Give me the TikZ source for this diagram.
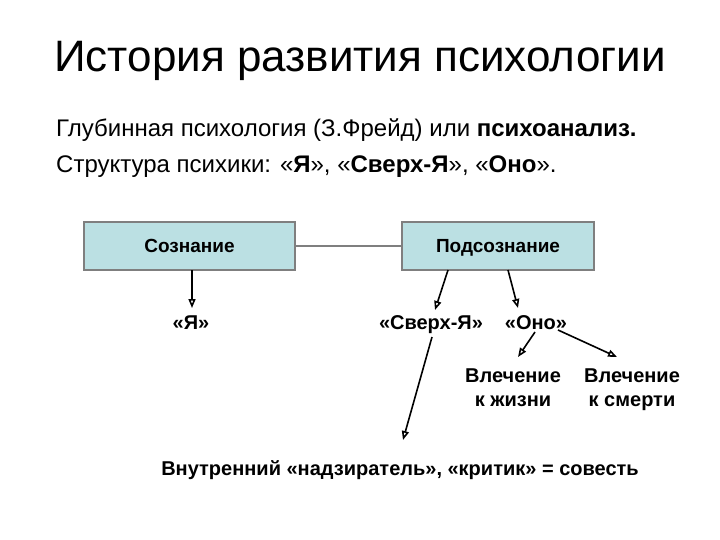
\documentclass[tikz,border=0pt]{standalone}
\usepackage{fontspec}
\setmainfont{Liberation Sans}
\usetikzlibrary{arrows.meta,calc}
\definecolor{boxfill}{HTML}{BBE0E3}
\definecolor{boxline}{HTML}{7F7F7F}
\begin{document}
\begin{tikzpicture}[x=1pt,y=-1pt,
  box/.style={draw=boxline, line width=1.2pt, fill=boxfill, minimum height=48pt, inner sep=0pt, text height=13.6pt, text depth=0pt, font=\bfseries\fontsize{19}{22}\selectfont},
  arr/.style={-{Triangle[open,length=9pt,width=7pt]}, line width=1.6pt},
  lbl/.style={font=\bfseries\fontsize{20}{24}\selectfont, align=center, inner sep=0pt, text height=14.3pt, text depth=0pt},
  txt/.style={font=\fontsize{24}{28}\selectfont, anchor=base west, inner sep=0pt}]
\useasboundingbox (0,0) rectangle (720,540);
\node[font=\fontsize{44}{50}\selectfont, inner sep=0pt, anchor=base] (title) at (360,72) {История развития психологии};
\node[txt] (l1) at (56,137) {Глубинная психология (З.Фрейд) или \textbf{психоанализ.}};
\node[txt] (l2) at (56,173) {Структура психики: «\textbf{Я}», «\textbf{Сверх-Я}», «\textbf{Оно}».};
\node[box, minimum width=211pt] (soz) at (189.5,246) {Сознание};
\node[box, minimum width=192pt] (pod) at (498,246) {Подсознание};
\draw[boxline, line width=1.2pt] (soz.east) -- (pod.west);
\node[lbl] (ya) at (191,322) {«Я»};
\node[lbl] (sverh) at (431,322) {«Сверх-Я»};
\node[lbl] (ono) at (536,322) {«Оно»};
\node[lbl] (zhizn) at (513,399) {Влечение\\к жизни};
\node[lbl] (smert) at (632,399) {Влечение\\к смерти};
\node[lbl] (sovest) at (400,468) {Внутренний «надзиратель», «критик» = совесть};
\draw[arr] ($(soz.center)+(2.5,24)$) -- ($(ya.center)+(1,-14)$);
\draw[arr] ($(pod.center)+(-50,24)$) -- ($(sverh.center)+(4,-12)$);
\draw[arr] ($(pod.center)+(10,24)$) -- ($(ono.center)+(-18,-14)$);
\draw[arr] ($(ono.center)+(-1,10)$) -- ($(zhizn.center)+(5,-42)$);
\draw[arr] ($(ono.center)+(22,8)$) -- ($(smert.center)+(-15,-42)$);
\draw[arr] ($(sverh.center)+(1,15)$) -- ($(sovest.center)+(3,-28)$);
\end{tikzpicture}
\end{document}
